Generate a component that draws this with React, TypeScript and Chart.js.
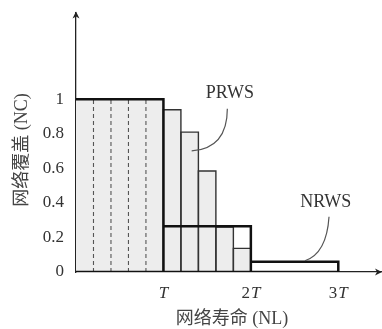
import React, { useEffect, useRef } from "react";
import { Chart, registerables } from "chart.js";

Chart.register(...registerables);

// ---- data (x in units of the period T) ----
const nrwsStarts = [0, 1, 2];
const nrwsValues = [1, 0.265, 0.06];
const periodLength = 1;
const prwsStarts = [1, 1.2, 1.4, 1.6, 1.8];
const prwsValues = [0.94, 0.81, 0.585, 0.26, 0.137];
const roundLength = 0.2;
const firstPeriodRounds = [0.2, 0.4, 0.6, 0.8];
const yTickValues = [0, 0.2, 0.4, 0.6, 0.8, 1];
const yTickLabels = ["0", "0.2", "0.4", "0.6", "0.8", "1"];
const xTickValues = [1, 2, 3];
const xTickPrefixes = ["", "2", "3"];
const xTickSymbol = "T";
const xTitle = "网络寿命 (NL)";
const yTitle = "网络覆盖 (NC)";
const prwsLabel = "PRWS";
const nrwsLabel = "NRWS";

// annotation anchors (data coordinates)
const prwsLabelAt = { x: 1.76, y: 1.036 };
const prwsLeader = [{ x: 1.731, y: 0.946 }, { x: 1.731, y: 0.717 }, { x: 1.323, y: 0.701 }];
const nrwsLabelAt = { x: 2.856, y: 0.406 };
const nrwsLeader = [{ x: 2.894, y: 0.32 }, { x: 2.867, y: 0.108 }, { x: 2.619, y: 0.065 }];

const FILL = "#ededed";
const SERIF = '"Liberation Serif", "DejaVu Serif", serif';
const CJK = '"Liberation Serif", "Noto Sans CJK SC", sans-serif';

const line = (extra: any) => ({
  showLine: true,
  pointRadius: 0,
  pointHoverRadius: 0,
  fill: false,
  tension: 0,
  ...extra,
});

function buildDatasets() {
  const last = prwsStarts.length - 1;
  const fillPoints = [
    { x: nrwsStarts[0], y: 0 },
    { x: nrwsStarts[0], y: nrwsValues[0] },
    { x: nrwsStarts[0] + periodLength, y: nrwsValues[0] },
    ...prwsStarts.flatMap((s, i) => [
      { x: s, y: prwsValues[i] },
      { x: s + roundLength, y: prwsValues[i] },
    ]),
    { x: prwsStarts[last] + roundLength, y: 0 },
  ];
  const ds: any[] = [];
  ds.push(
    line({
      data: fillPoints,
      fill: "origin",
      backgroundColor: FILL,
      borderWidth: 0,
      borderColor: "rgba(0,0,0,0)",
      order: 30,
    })
  );
  firstPeriodRounds.forEach((r) =>
    ds.push(
      line({
        data: [
          { x: r, y: 0 },
          { x: r, y: nrwsValues[0] },
        ],
        borderColor: "#555",
        borderWidth: 1.1,
        borderDash: [4, 3],
        order: 20,
      })
    )
  );
  prwsStarts.forEach((s, i) =>
    ds.push(
      line({
        data: [
          { x: s, y: 0 },
          { x: s, y: prwsValues[i] },
          { x: s + roundLength, y: prwsValues[i] },
          { x: s + roundLength, y: 0 },
        ],
        borderColor: "#333",
        borderWidth: 1.4,
        order: 10,
      })
    )
  );
  nrwsStarts.forEach((s, i) =>
    ds.push(
      line({
        data: [
          { x: s, y: nrwsValues[i] },
          { x: s + periodLength, y: nrwsValues[i] },
          { x: s + periodLength, y: 0 },
          { x: s, y: 0 },
        ],
        borderColor: "#111",
        borderWidth: 2.5,
        borderJoinStyle: "miter",
        order: 0,
      })
    )
  );
  return ds;
}

const overlay = {
  id: "overlay",
  afterDraw(chart: any) {
    const { ctx, chartArea, scales } = chart;
    const xs = scales.x;
    const ys = scales.y;
    const px = (p: { x: number; y: number }) => [xs.getPixelForValue(p.x), ys.getPixelForValue(p.y)];
    ctx.save();
    ctx.fillStyle = "#222";
    // x arrow
    const ax = chartArea.right;
    const ay = chartArea.bottom;
    ctx.beginPath();
    ctx.moveTo(ax, ay);
    ctx.lineTo(ax - 7, ay - 3.5);
    ctx.lineTo(ax - 5, ay);
    ctx.lineTo(ax - 7, ay + 3.5);
    ctx.closePath();
    ctx.fill();
    // y arrow
    const bx = chartArea.left;
    const by = chartArea.top - 1.5;
    ctx.beginPath();
    ctx.moveTo(bx, by);
    ctx.lineTo(bx - 3.5, by + 7);
    ctx.lineTo(bx, by + 5);
    ctx.lineTo(bx + 3.5, by + 7);
    ctx.closePath();
    ctx.fill();

    // x tick labels (upright coefficient, italic T)
    ctx.fillStyle = "#333";
    ctx.textBaseline = "alphabetic";
    ctx.textAlign = "left";
    xTickValues.forEach((v, i) => {
      const cx = xs.getPixelForValue(v);
      const pre = xTickPrefixes[i];
      ctx.font = `17px ${SERIF}`;
      const w1 = pre ? ctx.measureText(pre).width + 1 : 0;
      ctx.font = `italic 17px ${SERIF}`;
      const w2 = ctx.measureText(xTickSymbol).width;
      const start = cx - (w1 + w2) / 2;
      const base = chartArea.bottom + 25.5;
      if (pre) {
        ctx.font = `17px ${SERIF}`;
        ctx.fillText(pre, start, base);
      }
      ctx.font = `italic 17px ${SERIF}`;
      ctx.fillText(xTickSymbol, start + w1, base);
    });

    // axis titles
    ctx.fillStyle = "#444";
    ctx.font = `18px ${CJK}`;
    ctx.textAlign = "center";
    ctx.textBaseline = "middle";
    ctx.fillText(xTitle, (chartArea.left + chartArea.right) / 2 + 3, chart.height - 10);
    ctx.save();
    ctx.translate(22, 150);
    ctx.rotate(-Math.PI / 2);
    ctx.fillText(yTitle, 0, 0);
    ctx.restore();

    // annotations
    ctx.font = `18px ${SERIF}`;
    ctx.fillStyle = "#333";
    const [plx, ply] = px(prwsLabelAt);
    ctx.fillText(prwsLabel, plx, ply);
    const [nlx, nly] = px(nrwsLabelAt);
    ctx.fillText(nrwsLabel, nlx, nly);
    ctx.strokeStyle = "#555";
    ctx.lineWidth = 1.2;
    [prwsLeader, nrwsLeader].forEach((pts) => {
      const [a, b, c] = pts.map(px);
      ctx.beginPath();
      ctx.moveTo(a[0], a[1]);
      ctx.quadraticCurveTo(b[0], b[1], c[0], c[1]);
      ctx.stroke();
    });
    ctx.restore();
  },
};

const zeroPad = (s: any) => {
  s.paddingTop = 0;
  s.paddingBottom = 0;
  s.paddingLeft = 0;
  s.paddingRight = 0;
};

export default function App() {
  const ref = useRef<HTMLCanvasElement>(null);
  useEffect(() => {
    const canvas = ref.current!;
    const chart = new Chart(canvas, {
      type: "scatter",
      data: { datasets: buildDatasets() },
      options: {
        responsive: false,
        animation: false,
        devicePixelRatio: 1,
        layout: { padding: { top: 13, right: 0, left: 0, bottom: 0 } },
        plugins: { legend: { display: false }, tooltip: { enabled: false } },
        scales: {
          x: {
            type: "linear",
            min: 0,
            max: 3.5,
            grid: { display: false, drawTicks: false },
            border: { display: true, color: "#222", width: 1.3 },
            ticks: { display: false },
            afterFit: (s: any) => {
              s.height = 57;
              zeroPad(s);
            },
          },
          y: {
            type: "linear",
            min: 0,
            max: 1.5,
            grid: { display: false, drawTicks: false },
            border: { display: true, color: "#222", width: 1.3 },
            afterBuildTicks: (s: any) => {
              s.ticks = yTickValues.map((v) => ({ value: v }));
            },
            ticks: {
              autoSkip: false,
              padding: 12,
              color: "#333",
              font: { family: SERIF, size: 17 },
              callback: (v: any) => {
                const i = yTickValues.indexOf(Number(v));
                return i >= 0 ? yTickLabels[i] : "";
              },
            },
            afterFit: (s: any) => {
              s.width = 76;
              zeroPad(s);
            },
          },
        },
      } as any,
      plugins: [overlay],
    });
    return () => chart.destroy();
  }, []);
  return (
    <div style={{ position: "fixed", left: 0, top: 0, width: 382, height: 329, background: "#fff" }}>
      <canvas ref={ref} width={382} height={329} style={{ display: "block", width: 382, height: 329 }} />
    </div>
  );
}
